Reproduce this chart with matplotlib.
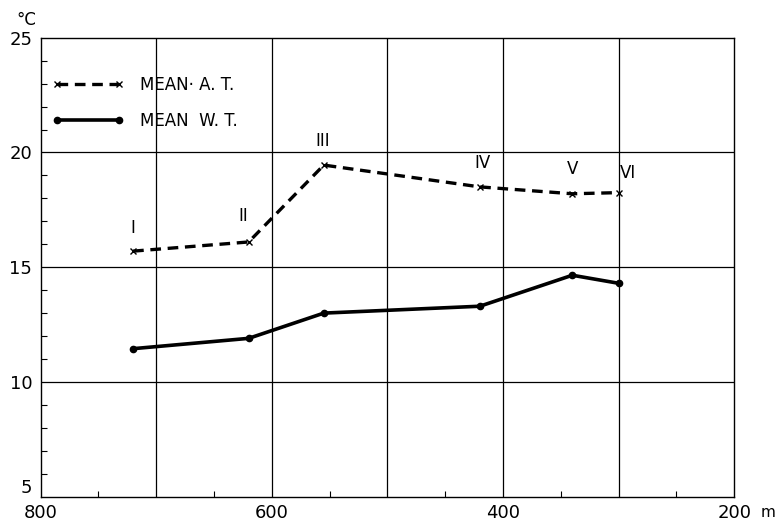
import numpy as np
import matplotlib
matplotlib.use('Agg')
from matplotlib import pyplot as plt
from matplotlib.ticker import MultipleLocator, FixedLocator

# altitude of stations (m) and mean temperatures (deg C)
altitude = [720, 620, 555, 420, 340, 300]
mean_at = [15.7, 16.1, 19.45, 18.5, 18.2, 18.25]
mean_wt = [11.45, 11.9, 13.0, 13.3, 14.65, 14.3]
stations = ['I', 'II', 'III', 'IV', 'V', 'VI']

x_labels = ['800', '600', '400', '200']
y_labels = ['5', '10', '15', '20', '25']

plt.rcParams['font.family'] = 'DejaVu Sans'

fig = plt.figure(figsize=(7.81, 5.26), dpi=100)
ax = fig.add_axes([0.052, 0.0557, 0.888, 0.8726])

ax.plot(altitude, mean_at, color='black', lw=2.4, ls=(0, (3.2, 2.0)),
        marker='x', ms=4, mew=1, label='MEAN· A. T.')
ax.plot(altitude, mean_wt, color='black', lw=2.6, ls='-',
        marker='o', ms=4.5, label='MEAN  W. T.')

# station numerals above the air temperature curve
offsets = {'I': (0, 10), 'II': (-4, 12), 'III': (-1, 11), 'IV': (2, 11),
           'V': (0, 11), 'VI': (7, 8)}
for x, y, s in zip(altitude, mean_at, stations):
    ax.annotate(s, (x, y), xytext=offsets[s], textcoords='offset points',
                ha='center', va='bottom', fontsize=12)

ax.set_xlim(800, 200)
ax.set_ylim(5, 25)

ax.xaxis.set_major_locator(FixedLocator([800, 600, 400, 200]))
ax.set_xticklabels(x_labels)
ax.yaxis.set_major_locator(FixedLocator([5, 10, 15, 20, 25]))
ax.set_yticklabels(y_labels)
ax.xaxis.set_minor_locator(FixedLocator([750, 650, 550, 450, 350, 250]))
ax.yaxis.set_minor_locator(MultipleLocator(1))

ax.tick_params(which='major', length=0, labelsize=13)
ax.tick_params(axis='x', which='major', pad=5)
ax.tick_params(axis='y', which='major', pad=6)
ax.tick_params(which='minor', direction='in', length=4, width=0.8)

# lift the lowest temperature label clear of the altitude labels
ax.get_yticklabels()[0].set_verticalalignment('bottom')

# unit after the last altitude label
ax.annotate('m', (1.0, 0), xycoords='axes fraction', xytext=(19, -6),
            textcoords='offset points', ha='left', va='top', fontsize=11)

for v in [700, 600, 500, 400, 300]:
    ax.axvline(v, color='black', lw=0.9, zorder=0)
for v in [10, 15, 20]:
    ax.axhline(v, color='black', lw=0.9, zorder=0)

for sp in ax.spines.values():
    sp.set_linewidth(1.0)

ax.text(-0.035, 1.02, '°C', transform=ax.transAxes, fontsize=12,
        ha='left', va='bottom')

ax.legend(loc='upper left', frameon=False, numpoints=2, handlelength=4.3,
          fontsize=12, labelspacing=1.1, handletextpad=1.0,
          bbox_to_anchor=(-0.005, 0.95))

fig.savefig('out.png', dpi=100)
